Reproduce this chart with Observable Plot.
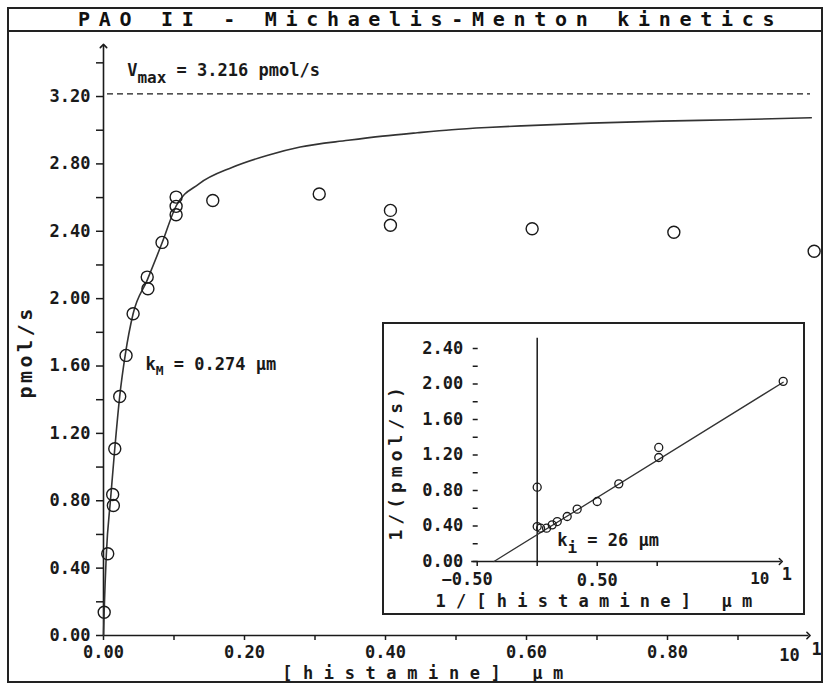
<!DOCTYPE html>
<html><head><meta charset="utf-8">
<script src="https://cdn.jsdelivr.net/npm/d3@7"></script>
<script src="https://cdn.jsdelivr.net/npm/@observablehq/plot@0.6"></script>
<style>
html,body{margin:0;padding:0;background:#fff;}
#wrap{position:relative;width:824px;height:687px;overflow:hidden;background:#fff;}
#wrap svg{display:block;}
#main{position:absolute;left:0;top:0;}
#frame{position:absolute;left:7px;top:7px;width:816px;height:676px;border:2px solid #222;box-sizing:border-box;pointer-events:none;}
#title{position:absolute;left:7px;top:7px;width:816px;height:25px;border:2px solid #222;box-sizing:border-box;
  font-family:"DejaVu Sans Mono",monospace;font-weight:bold;font-size:20px;line-height:21px;letter-spacing:8.7px;
  padding-left:69px;white-space:nowrap;color:#111;background:#fff;}
#inset{position:absolute;left:382px;top:322px;width:419px;height:289px;border:2px solid #222;background:#fff;}
</style>
</head><body>
<div id="wrap">
  <div id="main"></div>
  <div id="frame"></div>
  <div id="title"></div>
  <div id="inset"></div>
</div>
<script>
// ---------- data ----------
const chartTitle = "PAO II - Michaelis-Menton kinetics";
const xTitle = "[histamine] μm";
const yTitle = "pmol/s";
const insetXTitle = "1/[histamine] μm";
const insetYTitle = "1/(pmol/s)";

// measured points: [histamine] (μm) and rate (pmol/s)
const histamine = [0.001, 0.006, 0.013, 0.014, 0.016, 0.023, 0.032, 0.042, 0.062, 0.063, 0.083, 0.103, 0.103, 0.103, 0.155, 0.306, 0.407, 0.407, 0.608, 0.809, 1.008];
const rate      = [0.138, 0.485, 0.837, 0.772, 1.109, 1.419, 1.663, 1.910, 2.128, 2.059, 2.334, 2.603, 2.548, 2.498, 2.583, 2.621, 2.524, 2.436, 2.415, 2.394, 2.281];

// fitted curve
const curveX = [0, 0.001, 0.004, 0.010, 0.016, 0.023, 0.031, 0.042, 0.062, 0.083, 0.103, 0.135, 0.183, 0.232, 0.279, 0.347, 0.396, 0.445, 0.494, 0.544, 0.593, 0.691, 0.792, 0.891, 1.004];
const curveY = [0, 0.15, 0.48, 0.81, 1.11, 1.42, 1.67, 1.91, 2.11, 2.33, 2.55, 2.68, 2.78, 2.85, 2.90, 2.94, 2.965, 2.985, 3.003, 3.016, 3.026, 3.042, 3.054, 3.062, 3.074];

const vmax = 3.216;
const vmaxLabel = ["V", "max", " = 3.216 pmol/s"];
const kmLabel = ["k", "M", " = 0.274 μm"];
const kiLabel = ["k", "i", " = 26 μm"];

// axis ticks
const xTicks = [0, 0.2, 0.4, 0.6, 0.8];
const xMinor = [0.1, 0.3, 0.5, 0.7, 0.9];
const yTicks = [0, 0.4, 0.8, 1.2, 1.6, 2.0, 2.4, 2.8, 3.2];
const yMinor = [0.2, 0.6, 1.0, 1.4, 1.8, 2.2, 2.6, 3.0, 3.4];
const xEndLabels = ["10", "1"];

// Lineweaver-Burk inset
const invS = [0, 0, 0.028, 0.078, 0.125, 0.167, 0.25, 0.333, 0.5, 0.68, 1.013, 1.013, 2.05];
const invV = [0.837, 0.394, 0.375, 0.375, 0.413, 0.45, 0.507, 0.59, 0.676, 0.875, 1.285, 1.172, 2.03];
const fitX = [-0.36, 2.05];
const fitY = [0, 2.02];
const iyTicks = [0, 0.4, 0.8, 1.2, 1.6, 2.0, 2.4];
const iyAll = [0, 0.2, 0.4, 0.6, 0.8, 1.0, 1.2, 1.4, 1.6, 1.8, 2.0, 2.2, 2.4];
const ixTicks = [-0.5, 0, 0.5, 1.0];

// ---------- drawing ----------
const INK = "#1a1a1a";
const FONT = "DejaVu Sans Mono";
const fmt2 = d => d.toFixed(2);

const pts = histamine.map((x, i) => ({x, y: rate[i]}));
const curve = curveX.map((x, i) => ({x, y: curveY[i]}));
const xDom = [0, 1], yDom = [0, 3.5];

const main = Plot.plot({
  width: 824, height: 687,
  marginLeft: 103, marginRight: 16, marginTop: 45.5, marginBottom: 52,
  x: {domain: xDom},
  y: {domain: yDom},
  style: {background: "transparent", fontFamily: FONT, fontSize: "17px", fontWeight: "bold", color: INK, overflow: "visible"},
  marks: [
    Plot.axisY(yTicks, {tickSize: 7, tickPadding: 6, tickFormat: fmt2, label: null, strokeWidth: 1.5}),
    Plot.axisY(yMinor, {tickSize: 7, fill: "none", label: null, strokeWidth: 1.5}),
    Plot.axisX(xTicks, {tickSize: 5, tickPadding: 5, tickFormat: fmt2, label: null, strokeWidth: 1.5}),
    Plot.axisX(xMinor, {tickSize: 5, fill: "none", label: null, strokeWidth: 1.5}),
    Plot.link([0], {x1: xDom[0], y1: 0, x2: xDom[1], y2: 0, markerEnd: "arrow", stroke: INK, strokeWidth: 1.6}),
    Plot.link([0], {x1: 0, y1: yDom[0], x2: 0, y2: yDom[1], markerEnd: "arrow", stroke: INK, strokeWidth: 1.6}),
    Plot.ruleY([vmax], {stroke: INK, strokeWidth: 1.4, strokeDasharray: "6,4", insetLeft: 4, insetRight: -2}),
    Plot.line(curve, {x: "x", y: "y", curve: "monotone-x", stroke: "#333", strokeWidth: 1.6}),
    Plot.dot(pts, {x: "x", y: "y", r: 6, stroke: INK, strokeWidth: 1.4, fill: "none"}),
    Plot.text([xEndLabels[0]], {x: xDom[1], y: 0, text: d => d, dx: -19, dy: 13, lineAnchor: "top", fontSize: 17, fontWeight: "bold"}),
    Plot.text([xEndLabels[1]], {x: xDom[1], y: 0, text: d => d, dx: 8, dy: 7, lineAnchor: "top", fontSize: 17, fontWeight: "bold"}),
    Plot.text([xTitle], {frameAnchor: "bottom-left", text: d => d, dx: 178.7, dy: 43, textAnchor: "start", lineAnchor: "bottom", fontSize: 17, fontWeight: "bold"}),
    Plot.text([yTitle], {frameAnchor: "left", text: d => d, rotate: -90, dx: -72, dy: 57.75, textAnchor: "start", lineAnchor: "bottom", fontSize: 20, fontWeight: "bold"}),
    Plot.text([vmaxLabel.join("")], {frameAnchor: "top-left", text: d => d, dx: 23.7, dy: 29.5, textAnchor: "start", lineAnchor: "bottom", fontSize: 17, fontWeight: "bold"}),
    Plot.text([kmLabel.join("")], {frameAnchor: "top-left", text: d => d, dx: 42, dy: 323.5, textAnchor: "start", lineAnchor: "bottom", fontSize: 17, fontWeight: "bold"})
  ]
});
document.getElementById("main").appendChild(main);

const ipts = invS.map((x, i) => ({x, y: invV[i]}));
const fit = fitX.map((x, i) => ({x, y: fitY[i]}));
const ixDom = [-0.55, 2.03], iyDom = [0, 2.52];

const inset = Plot.plot({
  width: 419, height: 289,
  marginLeft: 86.7, marginRight: 22.7, marginTop: 13.35, marginBottom: 52,
  x: {domain: ixDom},
  y: {domain: iyDom},
  style: {background: "transparent", fontFamily: FONT, fontSize: "17px", fontWeight: "bold", color: INK, overflow: "visible"},
  marks: [
    Plot.axisY(iyTicks, {tickSize: 0, tickPadding: 8, tickFormat: fmt2, label: null}),
    Plot.axisY(iyAll, {tickSize: 5, fill: "none", label: null, dx: 7, strokeWidth: 1.5}),
    Plot.axisX(ixTicks, {tickSize: 5, fill: "none", label: null, strokeWidth: 1.5}),
    Plot.text([-0.5], {x: d => d, y: 0, text: d => "−" + fmt2(-d), dx: -10, dy: 11, lineAnchor: "top", fontSize: 17, fontWeight: "bold"}),
    Plot.text([0.5], {x: d => d, y: 0, text: d => fmt2(d), dy: 12, lineAnchor: "top", fontSize: 17, fontWeight: "bold"}),
    Plot.text([xEndLabels[0]], {x: ixDom[1], y: 0, text: d => d, dx: -21, dy: 11, lineAnchor: "top", fontSize: 16, fontWeight: "bold"}),
    Plot.text([xEndLabels[1]], {x: ixDom[1], y: 0, text: d => d, dx: 6, dy: 6, lineAnchor: "top", fontSize: 17, fontWeight: "bold"}),
    Plot.link([0], {x1: ixDom[0], y1: 0, x2: ixDom[1], y2: 0, markerEnd: "arrow", stroke: INK, strokeWidth: 1.5}),
    Plot.link([0], {x1: 0, y1: iyDom[0], x2: 0, y2: iyDom[1], stroke: INK, strokeWidth: 1.5}),
    Plot.line(fit, {x: "x", y: "y", stroke: "#333", strokeWidth: 1.3}),
    Plot.dot(ipts, {x: "x", y: "y", r: 4, stroke: INK, strokeWidth: 1.3, fill: "none"}),
    Plot.text([insetXTitle], {frameAnchor: "bottom-left", text: d => d, dx: -35.7, dy: 45, textAnchor: "start", lineAnchor: "bottom", fontSize: 17, fontWeight: "bold"}),
    Plot.text([insetYTitle], {frameAnchor: "left", text: d => d, rotate: -90, dx: -69.7, dy: 90.8, textAnchor: "start", lineAnchor: "bottom", fontSize: 18, fontWeight: "bold"}),
    Plot.text([kiLabel.join("")], {frameAnchor: "top-left", text: d => d, dx: 86, dy: 207.65, textAnchor: "start", lineAnchor: "bottom", fontSize: 17, fontWeight: "bold"})
  ]
});
document.getElementById("inset").appendChild(inset);

document.getElementById("title").textContent = chartTitle;

function findText(svg, str) {
  return d3.select(svg).selectAll("text").filter(function() { return this.textContent === str; });
}
// letter spacing for the wide titles
findText(main, xTitle).attr("letter-spacing", "10.6px");
findText(main, yTitle).attr("letter-spacing", "3.5px");
findText(inset, insetXTitle).attr("letter-spacing", "10.2px");
findText(inset, insetYTitle).attr("letter-spacing", "5px");

// subscripts
function subscript(svg, parts, drop, subSize) {
  const t = findText(svg, parts.join(""));
  t.text(null);
  t.append("tspan").text(parts[0]);
  t.append("tspan").attr("dy", drop).attr("font-size", subSize).text(parts[1]);
  t.append("tspan").attr("dy", -drop).text(parts[2]);
}
subscript(main, vmaxLabel, 7, 16);
subscript(main, kmLabel, 5, 13);
subscript(inset, kiLabel, 7, 16);
</script>
</body></html>
